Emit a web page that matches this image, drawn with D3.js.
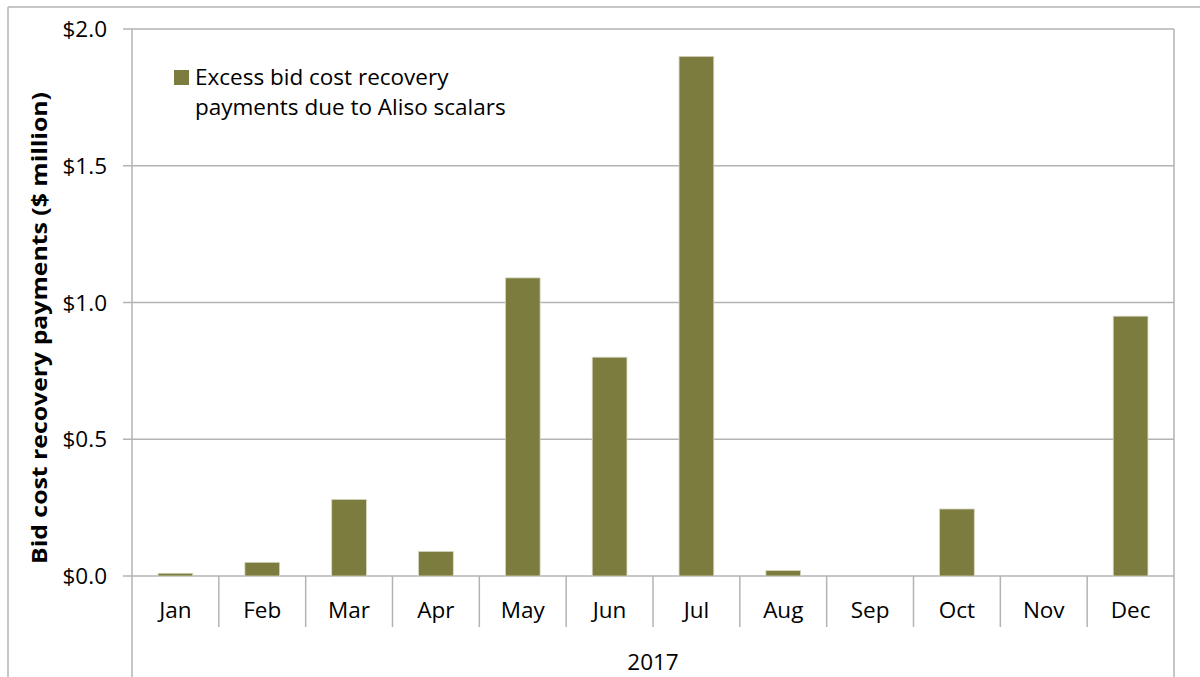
<!DOCTYPE html>
<html><head><meta charset="utf-8">
<script src="https://cdn.jsdelivr.net/npm/d3@7"></script>
<style>body{margin:0;background:#fff}svg{display:block}text{font-family:"Open Sans",sans-serif;fill:#000}</style>
</head><body>
<script>
const months = ["Jan","Feb","Mar","Apr","May","Jun","Jul","Aug","Sep","Oct","Nov","Dec"];
const values = [0.01,0.05,0.28,0.09,1.09,0.80,1.90,0.02,0,0.245,0,0.95];
const yTicks = [0,0.5,1.0,1.5,2.0];
const yearLabel = "2017";
const legendLines = ["Excess bid cost recovery","payments due to Aliso scalars"];
const yTitle = "Bid cost recovery payments ($ million)";

const W=1200,H=677;
const svg=d3.select("body").append("svg").attr("width",W).attr("height",H);
const L=132,R=1174,T=29,B=576;
const grey="#b3b3b3";
const x=d3.scaleBand().domain(months).range([L,R]).paddingInner(0.6).paddingOuter(0.3);
const xb=d3.scaleBand().domain(months).range([L,R]);
const y=d3.scaleLinear().domain([0,2]).range([B,T]);

// outer frame
svg.append("line").attr("x1",8).attr("x2",W).attr("y1",7).attr("y2",7).attr("stroke",grey).attr("stroke-width",1.5);
svg.append("line").attr("x1",8).attr("x2",8).attr("y1",7).attr("y2",H).attr("stroke",grey).attr("stroke-width",1.5);

// gridlines + ticks
svg.append("g").selectAll("line").data(yTicks).join("line")
 .attr("x1",L-9).attr("x2",R).attr("y1",d=>y(d)).attr("y2",d=>y(d)).attr("stroke",grey).attr("stroke-width",1.5);
svg.append("g").selectAll("text").data(yTicks).join("text")
 .attr("x",107).attr("y",d=>y(d)+8).attr("text-anchor","end").attr("font-size",22.5)
 .text(d=>"$"+d.toFixed(1));

// axis verticals
svg.append("line").attr("x1",L).attr("x2",L).attr("y1",T).attr("y2",H).attr("stroke",grey).attr("stroke-width",1.5);
svg.append("line").attr("x1",R).attr("x2",R).attr("y1",T).attr("y2",H).attr("stroke",grey).attr("stroke-width",1.5);
// category dividers
svg.append("g").selectAll("line").data(months.slice(1)).join("line")
 .attr("x1",d=>xb(d)).attr("x2",d=>xb(d)).attr("y1",B).attr("y2",627).attr("stroke",grey).attr("stroke-width",1.5);

// bars
svg.append("g").selectAll("rect").data(values).join("rect")
 .attr("x",(d,i)=>x(months[i])).attr("width",x.bandwidth())
 .attr("y",d=>y(d)).attr("height",d=>B-y(d))
 .attr("fill","#7b7c3d").attr("stroke","#d6d6c4").attr("stroke-width",0.8);

// month labels
svg.append("g").selectAll("text").data(months).join("text")
 .attr("x",d=>xb(d)+xb.bandwidth()/2).attr("y",618).attr("text-anchor","middle").attr("font-size",22.5).text(d=>d);
svg.append("text").attr("x",(L+R)/2).attr("y",670).attr("text-anchor","middle").attr("font-size",22.5).text(yearLabel);

// y title
svg.append("text").attr("transform","translate(47,328) rotate(-90)").attr("text-anchor","middle")
 .attr("font-size",22).attr("font-weight","bold").attr("textLength",472).attr("lengthAdjust","spacingAndGlyphs").text(yTitle);

// legend
svg.append("rect").attr("x",174).attr("y",70).attr("width",15).attr("height",15).attr("fill","#7b7c3d");
svg.selectAll(".lg").data(legendLines).join("text").attr("class","lg")
 .attr("x",195).attr("y",(d,i)=>85+i*30).attr("font-size",22.5).text(d=>d);
</script>
</body></html>
